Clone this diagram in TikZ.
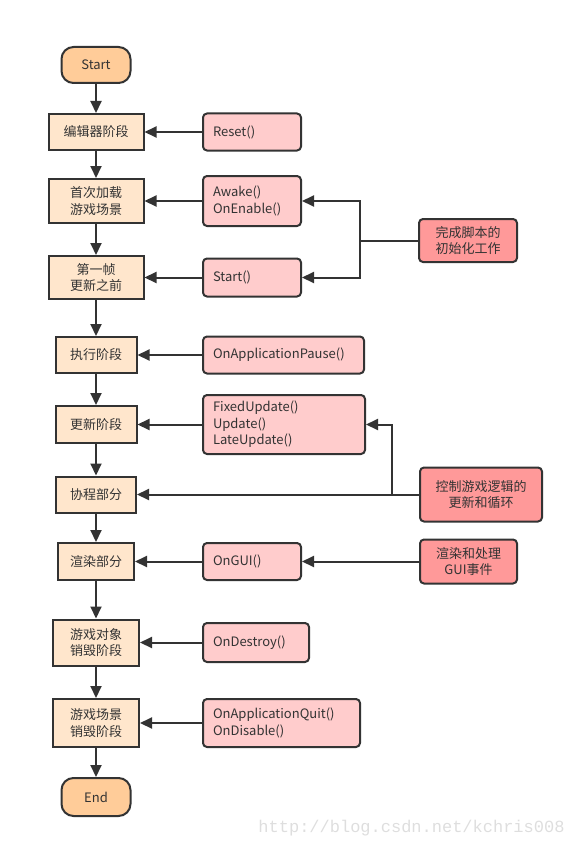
\documentclass[tikz,border=0pt]{standalone}
\usepackage{fontspec}
\setmainfont{Noto Sans CJK SC}
\newfontfamily\markfont{Liberation Mono}
\usetikzlibrary{arrows.meta}
\definecolor{termfill}{HTML}{FFCC99}
\definecolor{stagefill}{HTML}{FFE6CC}
\definecolor{funcfill}{HTML}{FFCCCC}
\definecolor{notefill}{HTML}{FF9999}
\definecolor{ink}{HTML}{333333}
\tikzset{
  box/.style={draw=ink,line width=2pt,text=ink,font=\fontsize{13}{16.5}\selectfont,inner sep=3pt},
  term/.style={box,fill=termfill,rounded corners=12pt,minimum width=69pt,minimum height=36pt},
  stage/.style={box,fill=stagefill,align=center},
  func/.style={box,fill=funcfill,rounded corners=4pt,align=left,inner xsep=10pt,text width=#1},
  note/.style={box,fill=notefill,rounded corners=4pt,align=center},
  wm/.style={text=black!13,font=\markfont\fontsize{17}{17}\selectfont}
}

\begin{document}
\begin{tikzpicture}[->,>={Triangle[length=12pt,width=11pt]},line width=2pt,color=ink,x=1pt,y=-1pt]
  \useasboundingbox (0,0) rectangle (573,848);
  \node[term] (start) at (96,65) {Start};
  \node[stage,minimum width=95pt,minimum height=36pt] (edit) at (96,132) {编辑器阶段};
  \node[stage,minimum width=95pt,minimum height=44pt] (load) at (96,201) {首次加载\\游戏场景};
  \node[stage,minimum width=95pt,minimum height=43pt] (first) at (96,277.5) {第一帧\\更新之前};
  \node[stage,minimum width=81pt,minimum height=36pt] (run) at (96,355) {执行阶段};
  \node[stage,minimum width=81pt,minimum height=37pt] (update) at (96,424.5) {更新阶段};
  \node[stage,minimum width=80pt,minimum height=36pt] (coro) at (96,494.5) {协程部分};
  \node[stage,minimum width=76pt,minimum height=37pt] (render) at (96,561.5) {渲染部分};
  \node[stage,minimum width=86pt,minimum height=46pt] (objdie) at (96,642.5) {游戏对象\\销毁阶段};
  \node[stage,minimum width=86pt,minimum height=48pt] (scenedie) at (96,723) {游戏场景\\销毁阶段};
  \node[term,minimum height=38pt] (end) at (96,797) {End};

  \node[func=78pt,minimum height=37pt] (reset) at (252,132) {Reset()};
  \node[func=78pt,minimum height=50pt] (awake) at (252,201) {Awake()\\OnEnable()};
  \node[func=78pt,minimum height=38pt] (startfn) at (252,277.5) {Start()};
  \node[func=141pt,minimum height=37pt] (pause) at (283.5,355) {OnApplicationPause()};
  \node[func=142pt,minimum height=59pt] (upd) at (284,424.5) {FixedUpdate()\\Update()\\LateUpdate()};
  \node[func=78pt,minimum height=37pt] (gui) at (252,561.5) {OnGUI()};
  \node[func=86pt,minimum height=39pt] (destroy) at (256,642.5) {OnDestroy()};
  \node[func=137pt,minimum height=48pt] (quit) at (281.5,723) {OnApplicationQuit()\\OnDisable()};

  \node[note,minimum width=98pt,minimum height=43pt] (init) at (468,240.5) {完成脚本的\\初始化工作};
  \node[note,minimum width=122pt,minimum height=54pt] (ctrl) at (481,494.5) {控制游戏逻辑的\\更新和循环};
  \node[note,minimum width=97pt,minimum height=44pt] (guinote) at (468.5,561.5) {渲染和处理\\GUI事件};

  \node[wm] (mark) at (411.5,828) {http://blog.csdn.net/kchris008};

  \path (start) edge (edit);
  \path (edit) edge (load);
  \path (load) edge (first);
  \path (first) edge (run);
  \path (run) edge (update);
  \path (update) edge (coro);
  \path (coro) edge (render);
  \path (render) edge (objdie);
  \path (objdie) edge (scenedie);
  \path (scenedie) edge (end);

  \path (reset) edge (edit);
  \path (awake) edge (load);
  \path (startfn) edge (first);
  \path (pause) edge (run);
  \path (upd) edge (update);
  \path (gui) edge (render);
  \path (destroy) edge (objdie);
  \path (quit) edge (scenedie);

  \coordinate (j1) at (360,240.5);
  \draw[-] (init) -- (j1);
  \draw (j1) |- (awake);
  \draw (j1) |- (startfn);
  \coordinate (j2) at (392,494.5);
  \draw (ctrl) -- (coro);
  \draw (j2) |- (upd);
  \path (guinote) edge (gui);
\end{tikzpicture}
\end{document}
